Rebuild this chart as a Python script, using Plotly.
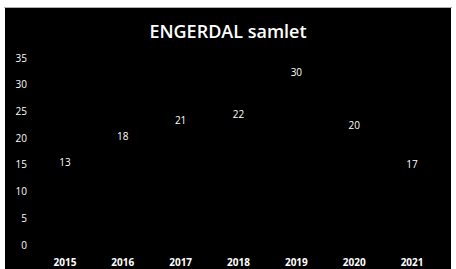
import plotly.graph_objects as go

years = ["2015", "2016", "2017", "2018", "2019", "2020", "2021"]
values = [13, 18, 21, 22, 30, 20, 17]
label_pos = ["top center"] * 6 + ["bottom center"]
y_ticks = [0, 5, 10, 15, 20, 25, 30, 35]

W, H = 456, 269
L, R, T, B = 36, 15, 58, 24
pw = W - L - R
ph = H - T - B

def px_x(px):
    return (px - L) / pw

def px_y(py):
    return (H - B - py) / ph

fig = go.Figure()
fig.add_trace(go.Scatter(
    x=years, y=values,
    mode="markers+text",
    marker=dict(color="black", size=9, opacity=0),
    text=[str(v) for v in values],
    textposition=label_pos,
    textfont=dict(color="white", size=10, family="Open Sans"),
    hoverinfo="skip",
    cliponaxis=False,
))

fig.update_layout(
    width=W, height=H,
    margin=dict(l=L, r=R, t=T, b=B, autoexpand=False),
    paper_bgcolor="white",
    plot_bgcolor="black",
    showlegend=False,
    title=dict(
        text="ENGERDAL samlet",
        x=0.5, xanchor="center",
        y=1 - 32 / H, yanchor="middle",
        font=dict(color="white", size=18, family="Open Sans", weight=600),
    ),
    xaxis=dict(
        type="category",
        range=[-0.5, 6.5],
        showgrid=False, zeroline=False, showline=False,
        ticks="",
        automargin=False,
        tickfont=dict(color="white", size=10, family="Open Sans", weight="bold"),
        ticklabelstandoff=10,
    ),
    yaxis=dict(
        range=[0, 35],
        tickvals=y_ticks,
        showgrid=False, zeroline=False, showline=False,
        ticks="",
        automargin=False,
        tickfont=dict(color="white", size=10, family="Open Sans"),
        ticklabelstandoff=8,
    ),
    shapes=[
        dict(type="rect", xref="paper", yref="paper", layer="below",
             x0=px_x(5), x1=px_x(451), y0=px_y(270), y1=px_y(8),
             fillcolor="black", line=dict(width=0)),
        dict(type="line", xref="paper", yref="paper", layer="below",
             x0=px_x(4), x1=px_x(452), y0=px_y(7.5), y1=px_y(7.5),
             line=dict(color="#b0b0b0", width=1)),
    ],
)

fig.write_html(
    "out.html",
    config={"displayModeBar": False},
    post_script="document.body.style.margin='0';document.body.style.padding='0';",
)
